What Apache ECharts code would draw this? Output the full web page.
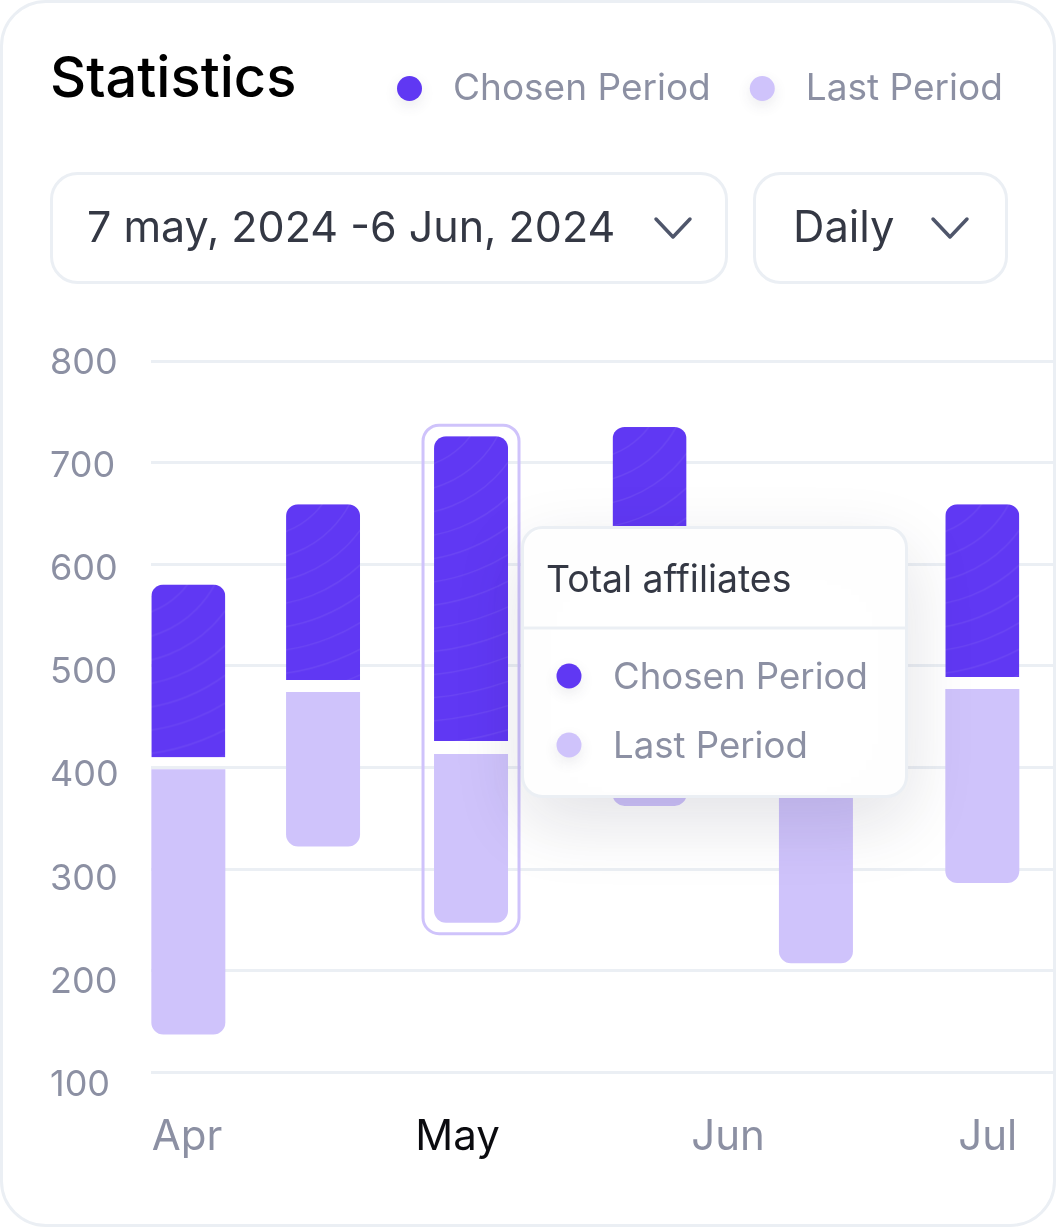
<!DOCTYPE html>
<html>
<head>
<meta charset="utf-8">
<title>Statistics</title>
<script src="https://cdn.jsdelivr.net/npm/echarts@6/dist/echarts.min.js"></script>
<style>
  html, body { margin: 0; padding: 0; background: #fff; }
  #card { position: absolute; left: 0; top: 0; width: 1056px; height: 1227px; box-sizing: border-box;
          border: 3px solid #ebeff4; border-radius: 46px; }
  #chart { position: absolute; left: 0; top: 0; width: 1056px; height: 1227px; }
</style>
</head>
<body>
<div id="card"></div>
<div id="chart"></div>
<script>
var months = ["Apr", "May", "Jun", "Jul"];
var monthTicks = [0, 1, 2, 2.96];
var activeMonth = "May";

// bar position on the month axis (0 = Apr, 1 = May ...)
var barPositions = [0.005, 0.503, 1.05, 1.71, 2.325, 2.94];
var chosenTop = [580, 659, 726, 735, 620, 659];
var chosenBottom = [410, 486, 426, 500, 460, 489];
var lastTop = [398, 474, 413, 488, 448, 477];
var lastBottom = [137, 322, 247, 362, 207, 286];
var selectedBar = 2;

var DARK = "#6038f3";
var LIGHT = "#cfc3fb";
var GREY = "#8c90a3";
var INK = "#343844";
var LINE = "#ebeff4";
var FONT = "Inter";
var BAR_W = 74;

function $(id) {
    return document.getElementById(id);
}

// faint curved lines on the dark bars
function barTexture(w, h) {
    var c = document.createElement("canvas");
    c.width = Math.ceil(w);
    c.height = Math.ceil(h);
    var ctx = c.getContext("2d");
    ctx.fillStyle = DARK;
    ctx.fillRect(0, 0, c.width, c.height);
    ctx.strokeStyle = "rgba(255,255,255,0.07)";
    ctx.lineWidth = 1.5;
    for (var r = 60; r < h + 200; r += 23) {
        ctx.beginPath();
        ctx.arc(-30, -50, r, 0, Math.PI / 2);
        ctx.stroke();
    }
    return c;
}

function rows(high, low) {
    return barPositions.map(function (x, i) {
        return [x, low[i], high[i]];
    });
}

function renderBar(radius, textured) {
    return function (params, api) {
        var top = api.coord([api.value(0), api.value(2)]);
        var bottom = api.coord([api.value(0), api.value(1)]);
        var x = top[0] - BAR_W / 2;
        var h = bottom[1] - top[1];
        var fill = api.visual("color");
        if (textured) {
            fill = { image: barTexture(BAR_W, h), repeat: "no-repeat", x: x, y: top[1] };
        }
        return {
            type: "rect",
            shape: { x: x, y: top[1], width: BAR_W, height: h, r: radius },
            style: { fill: fill }
        };
    };
}

function renderSelection(params, api) {
    var top = api.coord([api.value(0), api.value(2)]);
    var bottom = api.coord([api.value(0), api.value(1)]);
    return {
        type: "rect",
        shape: {
            x: top[0] - BAR_W / 2 - 11,
            y: top[1] - 11,
            width: BAR_W + 22,
            height: bottom[1] - top[1] + 22,
            r: 16
        },
        style: { fill: "none", stroke: LIGHT, lineWidth: 3 }
    };
}

function textEl(x, y, text, size, color) {
    return {
        type: "text", x: x, y: y, z: 10,
        style: { text: text, fill: color, font: "400 " + size + "px " + FONT, textVerticalAlign: "middle" }
    };
}

function boxEl(x, y, w, h) {
    return {
        type: "rect", z: 10,
        shape: { x: x, y: y, width: w, height: h, r: 26 },
        style: { fill: "#fff", stroke: LINE, lineWidth: 3 }
    };
}

function chevronEl(x, y) {
    return {
        type: "polyline", z: 10,
        shape: { points: [[x - 17, y - 9], [x, y + 9], [x + 17, y - 9]] },
        style: { fill: "none", stroke: "#4f566b", lineWidth: 3.5, lineCap: "round", lineJoin: "round" }
    };
}

function dotEl(x, y, color) {
    return {
        type: "circle", z: 101,
        shape: { cx: x, cy: y, r: 12.5 },
        style: { fill: color, shadowBlur: 14, shadowOffsetY: 5, shadowColor: "rgba(60,60,90,0.10)" }
    };
}

function tipTextEl(x, y, text, size, color) {
    var el = textEl(x, y, text, size, color);
    el.z = 101;
    return el;
}

var graphics = [
    boxEl(51.5, 173.5, 675, 109),
    textEl(87, 229, "7 may, 2024 -6 Jun, 2024", 43, INK),
    chevronEl(673, 228),
    boxEl(754.5, 173.5, 252, 109),
    textEl(793, 229, "Daily", 43.5, INK),
    chevronEl(950, 228),
    // fixed tooltip of the selected month
    {
        type: "rect", z: 100,
        shape: { x: 522.5, y: 527.5, width: 384, height: 269, r: 20 },
        style: { fill: "#fff", stroke: LINE, lineWidth: 3, shadowBlur: 70, shadowOffsetY: 24, shadowColor: "rgba(40,40,70,0.13)" }
    },
    {
        type: "line", z: 101,
        shape: { x1: 523, y1: 628, x2: 906, y2: 628 },
        style: { stroke: LINE, lineWidth: 3 }
    },
    tipTextEl(546, 581, "Total affiliates", 37.4, INK),
    dotEl(569, 676, DARK),
    tipTextEl(613, 678, "Chosen Period", 36.6, GREY),
    dotEl(569, 745, LIGHT),
    tipTextEl(613, 747, "Last Period", 36.6, GREY)
];

var option = {
    animation: false,
    backgroundColor: "transparent",
    textStyle: { fontFamily: FONT },
    title: {
        text: "Statistics", left: 50, top: 52, padding: 0,
        textStyle: { fontFamily: FONT, fontSize: 56, fontWeight: 500, color: "#000" }
    },
    legend: {
        left: 397, top: 70, padding: 0, itemGap: 39, itemWidth: 25, itemHeight: 25, icon: "circle",
        data: [
            { name: "Chosen Period", itemStyle: { color: DARK, shadowBlur: 14, shadowOffsetY: 5, shadowColor: "rgba(60,60,90,0.10)" } },
            { name: "Last Period", itemStyle: { color: LIGHT, shadowBlur: 14, shadowOffsetY: 5, shadowColor: "rgba(60,60,90,0.10)" } }
        ],
        textStyle: { fontFamily: FONT, fontSize: 37, color: GREY, padding: [0, 0, 0, 26] }
    },
    grid: [
        { left: 151, right: 2, top: 361, height: 711 },
        // the y labels sit on a slightly longer scale than the grid lines
        { left: 151, right: 2, top: 363, height: 722 }
    ],
    xAxis: [
        {
            type: "value", gridIndex: 0, min: -0.133, max: 3.205,
            splitLine: { show: false }, axisLine: { show: false }, axisTick: { show: false },
            axisLabel: {
                customValues: monthTicks, margin: 44, fontFamily: FONT, fontSize: 42, color: GREY,
                hideOverlap: false,
                formatter: function (value) {
                    var name = months[monthTicks.indexOf(value)];
                    return name === activeMonth ? "{active|" + name + "}" : name;
                },
                rich: { active: { fontFamily: FONT, fontSize: 42, color: "#0b0b0f" } }
            }
        },
        { type: "value", gridIndex: 1, show: false, min: 0, max: 1 }
    ],
    yAxis: [
        {
            type: "value", gridIndex: 0, min: 100, max: 800, interval: 100,
            axisLine: { show: false }, axisTick: { show: false }, axisLabel: { show: false },
            splitLine: { lineStyle: { color: LINE, width: 3 } }
        },
        {
            type: "value", gridIndex: 1, min: 100, max: 800, interval: 100,
            axisLine: { show: false }, axisTick: { show: false }, splitLine: { show: false },
            axisLabel: { margin: 101, align: "left", fontFamily: FONT, fontSize: 36, color: GREY }
        }
    ],
    series: [
        {
            name: "Chosen Period", type: "custom", xAxisIndex: 0, yAxisIndex: 0,
            itemStyle: { color: DARK }, clip: false,
            encode: { x: 0, y: [1, 2] },
            renderItem: renderBar([12, 12, 0, 0], true),
            data: rows(chosenTop, chosenBottom)
        },
        {
            name: "Last Period", type: "custom", xAxisIndex: 0, yAxisIndex: 0,
            itemStyle: { color: LIGHT }, clip: false,
            encode: { x: 0, y: [1, 2] },
            renderItem: renderBar([0, 0, 12, 12], false),
            data: rows(lastTop, lastBottom)
        },
        {
            name: "Selected", type: "custom", xAxisIndex: 0, yAxisIndex: 0, clip: false,
            encode: { x: 0, y: [1, 2] },
            renderItem: renderSelection,
            data: [[barPositions[selectedBar], lastBottom[selectedBar], chosenTop[selectedBar]]]
        }
    ],
    graphic: graphics
};

var chart = echarts.init($("chart"));
chart.setOption(option);
</script>
</body>
</html>
